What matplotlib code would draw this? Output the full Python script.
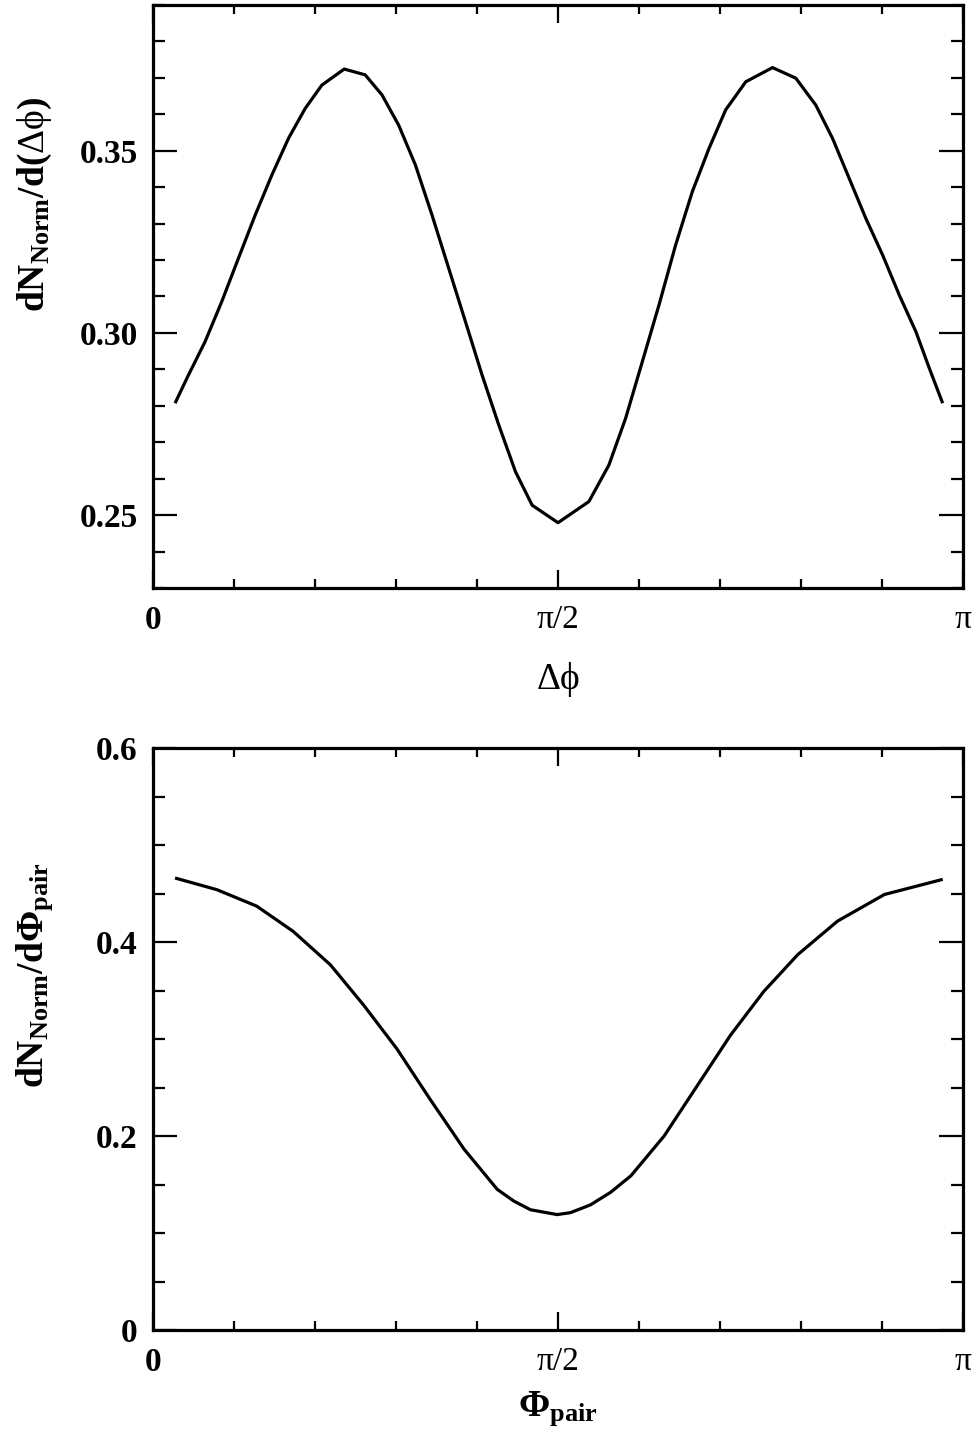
import numpy as np
import matplotlib
matplotlib.use("Agg")
import matplotlib.pyplot as plt
from matplotlib.ticker import MultipleLocator, FixedLocator

plt.rcParams['font.family'] = ['Liberation Serif', 'DejaVu Serif']
plt.rcParams['mathtext.fontset'] = 'custom'
plt.rcParams['mathtext.rm'] = 'Liberation Serif'
plt.rcParams['mathtext.bf'] = 'Liberation Serif:bold'
plt.rcParams['mathtext.it'] = 'Liberation Serif:italic'

# top panel: dN/d(dphi), x in units of pi
dphi = [0.0272, 0.0437, 0.0643, 0.0849, 0.1055, 0.1261, 0.1467, 0.1673, 0.1879, 0.2085,
        0.2361, 0.2620, 0.2827, 0.3033, 0.3239, 0.3445, 0.3651, 0.3857, 0.4063, 0.4269,
        0.4475, 0.4681, 0.5000, 0.5381, 0.5628, 0.5834, 0.6041, 0.6246, 0.6452,
        0.6659, 0.6864, 0.7070, 0.7318, 0.7648, 0.7936, 0.8183, 0.8389, 0.8595, 0.8801,
        0.9007, 0.9213, 0.9419, 0.9584, 0.9749]
dn_dphi = [0.2807, 0.2884, 0.2976, 0.3086, 0.3205, 0.3323, 0.3433, 0.3534, 0.3616, 0.3680,
           0.3724, 0.3708, 0.3653, 0.3570, 0.3461, 0.3323, 0.3177, 0.3031, 0.2884, 0.2747,
           0.2619, 0.2527, 0.2479, 0.2537, 0.2637, 0.2765, 0.2921, 0.3076, 0.3241,
           0.3388, 0.3506, 0.3612, 0.3689, 0.3728, 0.3699, 0.3625, 0.3534, 0.3424, 0.3314,
           0.3214, 0.3104, 0.3003, 0.2903, 0.2807]

# bottom panel: dN/dPhi_pair, x in units of pi
phi_pair = [0.0272, 0.0787, 0.128, 0.173, 0.219, 0.260, 0.301, 0.342, 0.384, 0.425,
            0.4454, 0.466, 0.499, 0.5154, 0.540, 0.565, 0.590, 0.631, 0.672, 0.713,
            0.754, 0.796, 0.845, 0.903, 0.975]
dn_pair = [0.466, 0.454, 0.437, 0.411, 0.3765, 0.335, 0.290, 0.238, 0.1865, 0.145,
           0.133, 0.124, 0.119, 0.121, 0.129, 0.142, 0.159, 0.200, 0.252, 0.304,
           0.349, 0.387, 0.4215, 0.449, 0.4646]

xtick_labels = ['0', 'π/2', 'π']

fig = plt.figure(figsize=(9.74, 14.46), dpi=100)
ax1 = fig.add_axes([0.1571, 0.5934, 0.8316, 0.4032])
ax2 = fig.add_axes([0.1571, 0.0802, 0.8316, 0.4025])


def style(ax):
    for s in ax.spines.values():
        s.set_linewidth(2.3)
    ax.set_xlim(0, np.pi)
    ax.xaxis.set_major_locator(FixedLocator([0, np.pi / 2, np.pi]))
    ax.xaxis.set_minor_locator(MultipleLocator(np.pi / 10))
    ax.set_xticklabels(xtick_labels)
    ax.tick_params(axis='both', which='both', direction='in', top=True, right=True)
    ax.tick_params(axis='x', which='major', length=13, width=1.6, pad=12, labelsize=24)
    ax.tick_params(axis='x', which='minor', length=6.5, width=1.6)
    ax.tick_params(axis='y', which='major', length=17, width=1.6, pad=11, labelsize=24)
    ax.tick_params(axis='y', which='minor', length=8.6, width=1.6)
    xl = ax.get_xticklabels()
    xl[0].set_fontweight('bold')
    for t in ax.get_yticklabels():
        t.set_fontweight('bold')


ax1.plot(np.array(dphi) * np.pi, dn_dphi, color='black', lw=2.3,
         solid_joinstyle='round', solid_capstyle='butt')
ax1.set_ylim(0.23, 0.39)
ax1.yaxis.set_major_locator(FixedLocator([0.25, 0.30, 0.35]))
ax1.yaxis.set_minor_locator(MultipleLocator(0.01))
ax1.set_yticklabels(['0.25', '0.30', '0.35'])
style(ax1)
ax1.set_ylabel(r'$\mathbf{dN_{Norm}/d(}\mathrm{\Delta\phi}\mathbf{)}$', fontsize=27, va='center')
ax1.yaxis.set_label_coords(-0.146, 0.658)
ax1.set_xlabel('Δϕ', fontsize=27, va='center')
ax1.xaxis.set_label_coords(0.5, -0.157)

ax2.plot(np.array(phi_pair) * np.pi, dn_pair, color='black', lw=2.3,
         solid_joinstyle='round', solid_capstyle='butt')
ax2.set_ylim(0, 0.6)
ax2.yaxis.set_major_locator(FixedLocator([0, 0.2, 0.4, 0.6]))
ax2.yaxis.set_minor_locator(MultipleLocator(0.05))
ax2.set_yticklabels(['0', '0.2', '0.4', '0.6'])
style(ax2)
ax2.set_ylabel(r'$\mathbf{dN_{Norm}/d\Phi_{pair}}$', fontsize=27, va='center')
ax2.yaxis.set_label_coords(-0.146, 0.61)
ax2.set_xlabel(r'$\mathbf{\Phi_{pair}}$', fontsize=27, va='center')
ax2.xaxis.set_label_coords(0.5, -0.135)

fig.savefig('out.png', dpi=100)
